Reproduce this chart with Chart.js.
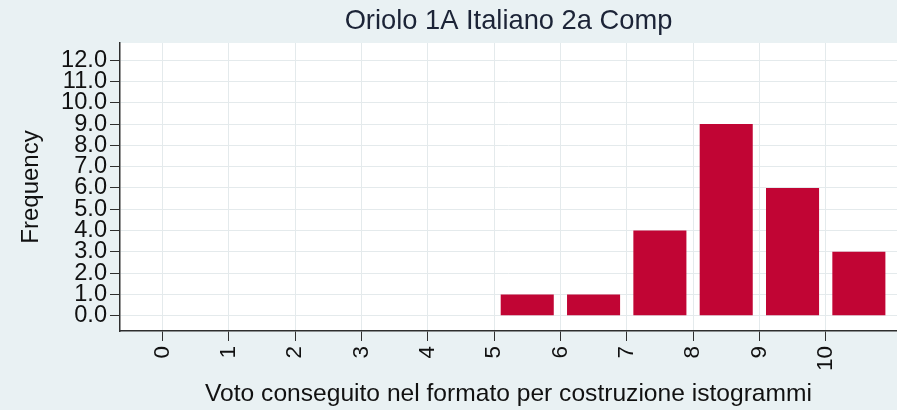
<!DOCTYPE html>
<html><head><meta charset="utf-8">
<script src="https://cdn.jsdelivr.net/npm/chart.js@4/dist/chart.umd.min.js"></script>
<style>html,body{margin:0;padding:0;background:#e9f1f3;} canvas{display:block;}</style>
</head><body>
<canvas id="c" width="897" height="410"></canvas>
<script>
const chartTitle = 'Oriolo 1A Italiano 2a Comp';
const xAxisTitle = 'Voto conseguito nel formato per costruzione istogrammi';
const yAxisTitle = 'Frequency';
const binStarts = [0, 1, 2, 3, 4, 5, 6, 7, 8, 9, 10];
const frequencies = [0, 0, 0, 0, 0, 1, 1, 4, 9, 6, 3];
const xTickValues = [0, 1, 2, 3, 4, 5, 6, 7, 8, 9, 10];
const yTickValues = [0, 1, 2, 3, 4, 5, 6, 7, 8, 9, 10, 11, 12];

const FAMILY = '"Liberation Sans", Arial, Helvetica, sans-serif';
const BG = '#e9f1f3';
const GRID = '#e4eaec';
const AXIS = '#2e2e2e';

const decor = {
  id: 'decor',
  beforeDraw(chart) {
    const { ctx, chartArea: a, width, height } = chart;
    ctx.save();
    ctx.fillStyle = BG;
    ctx.fillRect(0, 0, width, height);
    ctx.fillStyle = '#ffffff';
    ctx.fillRect(a.left, a.top, a.right - a.left, a.bottom - a.top);
    ctx.restore();
  },
  afterDraw(chart) {
    const { ctx, chartArea: a } = chart;
    const xs = chart.scales.x;
    ctx.save();
    ctx.fillStyle = '#1c2437';
    ctx.font = '27.3px ' + FAMILY;
    ctx.textAlign = 'center';
    ctx.textBaseline = 'middle';
    ctx.fillText(chartTitle, (a.left + a.right) / 2, 21);
    ctx.fillStyle = '#111111';
    ctx.font = '22.5px ' + FAMILY;
    ctx.textAlign = 'right';
    ctx.textBaseline = 'middle';
    xs.ticks.forEach(t => {
      const x = xs.getPixelForValue(t.value);
      ctx.save();
      ctx.translate(x, a.bottom + 15);
      ctx.rotate(-Math.PI / 2);
      ctx.fillText(String(t.value), 0, 0);
      ctx.restore();
    });
    ctx.restore();
  }
};

new Chart(document.getElementById('c'), {
  type: 'bar',
  data: {
    datasets: [{
      data: binStarts.map((b, i) => ({ x: b + 0.5, y: frequencies[i] })),
      backgroundColor: '#c10534',
      borderWidth: 0,
      barPercentage: 0.8,
      categoryPercentage: 1.0
    }]
  },
  options: {
    responsive: false,
    animation: false,
    layout: { padding: { top: 43, right: 0, bottom: 0, left: 0 } },
    plugins: { legend: { display: false }, tooltip: { enabled: false }, title: { display: false } },
    scales: {
      x: {
        type: 'linear', min: -0.64, max: 11.075, offset: false,
        afterBuildTicks: s => { s.ticks = xTickValues.map(v => ({ value: v })); },
        afterFit: s => { s.height = 79; },
        grid: { offset: false, color: GRID, lineWidth: 1, tickColor: AXIS, tickLength: 10, drawTicks: true },
        border: { display: true, color: AXIS, width: 1.5 },
        ticks: { display: false },
        title: { display: true, text: xAxisTitle, color: '#111111', font: { family: FAMILY, size: 24.6 }, padding: { top: 0, bottom: 1 } }
      },
      y: {
        type: 'linear', min: -0.72, max: 12.81,
        afterBuildTicks: s => { s.ticks = yTickValues.map(v => ({ value: v })); },
        afterFit: s => { s.width = 120; },
        grid: { color: GRID, lineWidth: 1, tickColor: AXIS, tickLength: 10, drawTicks: true },
        border: { display: true, color: AXIS, width: 1.5 },
        ticks: { autoSkip: false, padding: 3, color: '#111111', font: { family: FAMILY, size: 23.6, lineHeight: 1 }, callback: v => Number(v).toFixed(1) },
        title: { display: true, text: yAxisTitle, color: '#111111', font: { family: FAMILY, size: 24 }, padding: { top: 17, bottom: 0 } }
      }
    }
  },
  plugins: [decor]
});
</script>
</body></html>
